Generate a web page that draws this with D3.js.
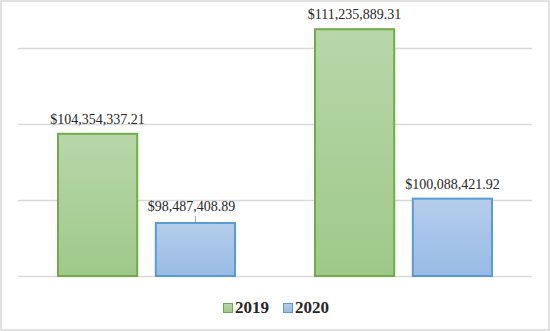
<!DOCTYPE html>
<html>
<head>
<meta charset="utf-8">
<script src="https://cdn.jsdelivr.net/npm/d3@7"></script>
<style>
  html, body { margin: 0; padding: 0; background: #fff; }
  svg { display: block; }
</style>
</head>
<body>
<svg id="chart" width="550" height="331"></svg>
<script>
// Two groups of spending totals, one bar per year
const categories = ["A", "B"];
const years = ["2019", "2020"];
const values2019 = [104354337.21, 111235889.31];
const values2020 = [98487408.89, 100088421.92];
const gridTicks = [95000000, 100000000, 105000000, 110000000];

const W = 550, H = 331;
const svg = d3.select("#chart");

const defs = svg.append("defs");
const gradSpecs = [
  { id: "g2019", top: "#b7d7a9", bottom: "#9fc98a" },
  { id: "g2020", top: "#b5cdea", bottom: "#98bbe5" }
];
gradSpecs.forEach(g => {
  const lg = defs.append("linearGradient").attr("id", g.id)
    .attr("x1", 0).attr("y1", 0).attr("x2", 0).attr("y2", 1);
  lg.append("stop").attr("offset", "0%").attr("stop-color", g.top);
  lg.append("stop").attr("offset", "100%").attr("stop-color", g.bottom);
});

const stroke = { "2019": "#70ad47", "2020": "#5b9bd5" };
const fill = { "2019": "url(#g2019)", "2020": "url(#g2020)" };

// Chart frame
svg.append("rect").attr("x", 1).attr("y", 1).attr("width", W - 2).attr("height", H - 2)
  .attr("fill", "#fff").attr("stroke", "#d9d9d9").attr("stroke-width", 1.5);

const plot = { left: 18, right: 532, top: 18, bottom: 276 };

const y = d3.scaleLinear().domain([95000000, 112000000])
  .range([plot.bottom, plot.bottom - 17 * 15.2]);

const x0 = d3.scaleBand().domain(categories).range([plot.left, plot.right]).paddingInner(0).paddingOuter(0);
const x1 = d3.scaleBand().domain(years).range([40, x0.bandwidth() - 40]).paddingInner(0.19);

// Horizontal gridlines
svg.append("g").selectAll("line").data(gridTicks).join("line")
  .attr("x1", plot.left).attr("x2", plot.right)
  .attr("y1", d => Math.round(y(d)) + 0.5).attr("y2", d => Math.round(y(d)) + 0.5)
  .attr("stroke", "#d9d9d9").attr("stroke-width", 1.5);

const rows = [];
categories.forEach((c, i) => {
  rows.push({ cat: c, year: "2019", value: values2019[i] });
  rows.push({ cat: c, year: "2020", value: values2020[i] });
});

const bars = svg.append("g");
bars.selectAll("rect").data(rows).join("rect")
  .attr("x", d => x0(d.cat) + x1(d.year))
  .attr("y", d => y(d.value))
  .attr("width", x1.bandwidth())
  .attr("height", d => y.range()[0] - y(d.value))
  .attr("fill", d => fill[d.year])
  .attr("stroke", d => stroke[d.year])
  .attr("stroke-width", 2);

const fmt = d3.format("$,.2f");
const labelFont = "'Liberation Serif', 'Times New Roman', serif";

// Value labels above each bar; the short first 2020 bar gets a leader line
const labels = svg.append("g");
rows.forEach((d, i) => {
  const cx = x0(d.cat) + x1(d.year) + x1.bandwidth() / 2;
  const top = y(d.value);
  const leader = (i === 1);
  const gap = leader ? 12 : 10;
  labels.append("text")
    .attr("x", leader ? cx - 4 : cx)
    .attr("y", top - gap)
    .attr("text-anchor", "middle")
    .attr("font-family", labelFont)
    .attr("font-size", 14)
    .attr("fill", "#262626")
    .text(fmt(d.value));
  if (leader) {
    labels.append("line")
      .attr("x1", cx).attr("x2", cx)
      .attr("y1", top - 7).attr("y2", top - 1)
      .attr("stroke", "#a6a6a6").attr("stroke-width", 1);
  }
});

// Legend
const legend = svg.append("g");
const legendItems = [
  { year: "2019", x: 223 },
  { year: "2020", x: 283 }
];
legendItems.forEach(it => {
  legend.append("rect")
    .attr("x", it.x + 0.5).attr("y", 303.5).attr("width", 9).attr("height", 9)
    .attr("fill", fill[it.year]).attr("stroke", stroke[it.year]).attr("stroke-width", 1);
  legend.append("text")
    .attr("x", it.x + 12).attr("y", 313)
    .attr("font-family", labelFont)
    .attr("font-size", 17)
    .attr("font-weight", "bold")
    .attr("fill", "#262626")
    .text(it.year);
});
</script>
</body>
</html>
